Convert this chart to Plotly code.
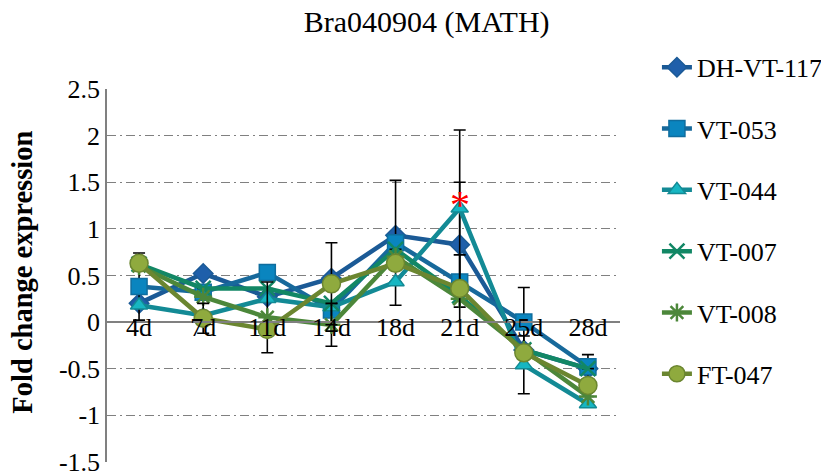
import plotly.graph_objects as go

categories = ["4d", "7d", "11d", "14d", "18d", "21d", "25d", "28d"]

series_names = ["DH-VT-117", "VT-053", "VT-044", "VT-007", "VT-008", "FT-047"]

dh_vt_117 = [0.20, 0.52, 0.27, 0.47, 0.93, 0.83, -0.30, -0.50]
vt_053 = [0.38, 0.32, 0.53, 0.13, 0.85, 0.43, 0.00, -0.48]
vt_044 = [0.18, 0.07, 0.25, 0.16, 0.43, 1.22, -0.46, -0.88]
vt_007 = [0.62, 0.36, 0.36, 0.20, 0.78, 0.28, -0.30, -0.50]
vt_008 = [0.60, 0.27, 0.05, -0.03, 0.70, 0.25, -0.30, -0.80]
ft_047 = [0.63, 0.04, -0.08, 0.41, 0.63, 0.36, -0.33, -0.68]

# error bar half-lengths (None = no bar shown)
err_dh_vt_117 = [None, None, None, None, None, 0.67, None, None]
err_vt_053 = [0.36, None, None, None, 0.67, None, 0.37, 0.13]
err_vt_044 = [None, None, None, None, None, 0.84, 0.31, None]
err_vt_007 = [None, None, None, None, None, None, None, None]
err_vt_008 = [None, None, 0.38, 0.23, None, None, None, None]
err_ft_047 = [None, 0.16, None, 0.44, None, 0.36, None, None]

y_tick_vals = [-1.5, -1, -0.5, 0, 0.5, 1, 1.5, 2, 2.5]
y_tick_text = ["-1.5", "-1", "-0.5", "0", "0.5", "1", "1.5", "2", "2.5"]

significance_cat = "21d"
significance_val = 1.30

values = [dh_vt_117, vt_053, vt_044, vt_007, vt_008, ft_047]
errors = [err_dh_vt_117, err_vt_053, err_vt_044, err_vt_007, err_vt_008, err_ft_047]

line_colors = ["#1B5A96", "#17699B", "#138A95", "#128765", "#4C873A", "#6B8630"]
marker_fill = ["#1F5FAA", "#0A85BF", "#17B6C2", "#128765", "#4C873A", "#8FAA3E"]
marker_line = ["#1B5A96", "#0F6D9E", "#138A95", "#128765", "#4C873A", "#6B8630"]
symbols = ["diamond", "square", "triangle-up", "x-thin-open", "asterisk-open", "circle"]
sizes = [15, 16, 15, 15, 15, 18]

SERIF = "Liberation Serif, Times New Roman, serif"

fig = go.Figure()
for i, name in enumerate(series_names):
    fig.add_trace(go.Scatter(
        x=categories, y=values[i], name=name, mode="lines+markers",
        line=dict(color=line_colors[i], width=4.5),
        marker=dict(symbol=symbols[i], size=sizes[i], color=marker_fill[i],
                    line=dict(color=marker_line[i], width=1.5 if i not in (3, 4) else 2.5)),
        error_y=dict(type="data", array=errors[i], symmetric=True,
                     color="black", thickness=1.6, width=6),
        legendgroup=name,
    ))

fig.add_annotation(x=significance_cat, y=significance_val, text="*", showarrow=False,
                   font=dict(family=SERIF, size=40, color="red"),
                   yshift=-4)

fig.add_annotation(xref="paper", yref="paper", x=-0.164, y=0.51, textangle=-90,
                   text="<b>Fold change expression</b>", showarrow=False,
                   xanchor="center", yanchor="middle",
                   font=dict(family=SERIF, size=28.5, color="black"))

grid_dash = "9px,4px,2px,4px"
# page has an 8px body margin, so the figure is 8px smaller and margins shifted
fig.update_layout(
    width=821, height=466,
    margin=dict(l=99, r=209, t=81, b=12, autoexpand=False),
    paper_bgcolor="white", plot_bgcolor="white",
    font=dict(family=SERIF, size=26, color="black"),
    title=dict(text="Bra040904 (MATH)", x=0.510, xanchor="center", y=0.97, yanchor="middle",
               font=dict(family=SERIF, size=30, color="black")),
    legend=dict(x=1.072, xanchor="left", y=1.121, yanchor="top",
                font=dict(family=SERIF, size=26, color="black"), maxheight=460,
                tracegroupgap=24.5, bgcolor="rgba(0,0,0,0)"),
    xaxis=dict(type="category", range=[-0.5, 7.5], anchor="free", position=0.3755,
               showline=True, linecolor="#808080", linewidth=1.5, ticks="",
               showgrid=False, zeroline=False, automargin=False, ticklabelstandoff=-18,
               tickfont=dict(family=SERIF, size=26, color="black")),
    yaxis=dict(range=[-1.502, 2.5], tickvals=y_tick_vals, ticktext=y_tick_text,
               showline=True, linecolor="#808080", linewidth=1.5,
               showgrid=True, gridcolor="#808080", gridwidth=1.2, griddash=grid_dash,
               zeroline=False, ticks="", automargin=False, ticklabeloverflow="allow",
               tickfont=dict(family=SERIF, size=26, color="black")),
)

fig.write_html("out.html")
